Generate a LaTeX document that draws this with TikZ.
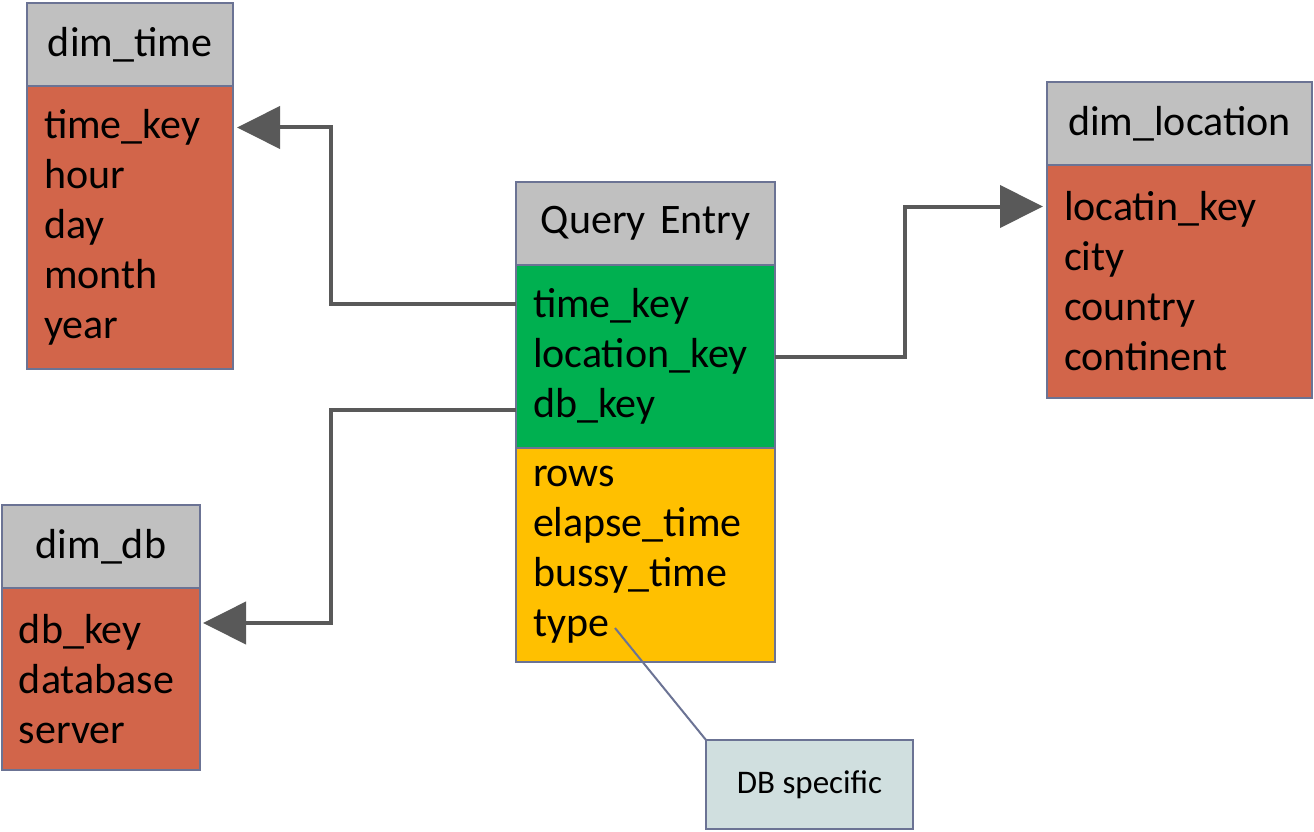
\documentclass[tikz,border=0pt]{standalone}
\usepackage{fontspec}
\setmainfont{Carlito}
\usetikzlibrary{arrows.meta,positioning}
\definecolor{hdrgrey}{HTML}{C0C0C0}
\definecolor{dimred}{HTML}{D2654A}
\definecolor{keygreen}{HTML}{00B050}
\definecolor{factyellow}{HTML}{FFC000}
\definecolor{notegrey}{HTML}{D0DFDF}
\definecolor{edgeblue}{HTML}{6B7394}
\definecolor{linkgrey}{HTML}{595959}

\begin{document}
\begin{tikzpicture}[x=1pt,y=-1pt,node distance=0pt,
                    tbl/.style={draw=edgeblue,line width=2pt,outer sep=0pt,
                      inner xsep=17pt,inner ysep=0pt,align=left,
                      font=\fontsize{42}{50}\selectfont},
                    hdr/.style={tbl,fill=hdrgrey,align=center,minimum height=83pt},
                    dim/.style={tbl,fill=dimred},
                    link/.style={draw=linkgrey,line width=4pt,
                      -{Triangle[length=43pt,width=42pt]}}]
      \useasboundingbox (0,0) rectangle (1314,832);
      % dimension tables
      \node[hdr,anchor=north west,text width=172pt] (timeh) at (27,3) {dim\_time};
      \node[dim,text width=172pt,minimum height=283pt] (timeb) [below=of timeh]
            {time\_key\\hour\\day\\month\\year};
      \node[hdr,anchor=north west,text width=164pt] (dbh) at (2,505) {dim\_db};
      \node[dim,text width=164pt,minimum height=182pt] (dbb) [below=of dbh]
            {db\_key\\database\\server};
      \node[hdr,anchor=north west,text width=231pt] (loch) at (1047,82) {dim\_location};
      \node[dim,text width=231pt,minimum height=233pt] (locb) [below=of loch]
            {locatin\_key\\city\\country\\continent};
      % fact table
      \node[hdr,anchor=north west,text width=225pt] (qh) at (516,182) {Query Entry};
      \node[tbl,fill=keygreen,text width=225pt,minimum height=183pt] (qkeys) [below=of qh]
            {time\_key\\location\_key\\db\_key};
      \node[tbl,fill=factyellow,text width=225pt,minimum height=214pt] (qvals) [below=of qkeys]
            {rows\\elapse\_time\\bussy\_time\\type\\[-2pt]};
      % note
      \node[draw=edgeblue,line width=2pt,fill=notegrey,outer sep=0pt,
            minimum width=207pt,minimum height=89pt,anchor=north west,
            font=\fontsize{33}{36}\selectfont] (note) at (706,740) {DB specific};
      \coordinate (typeend) at (615,628);
      % links
      \draw[link] ([yshift=53pt]qkeys.west) -- ++(-185,0) |- ([yshift=100pt,xshift=4pt]timeb.east);
      \draw[link] ([yshift=-53pt]qkeys.west) -- ++(-185,0) |- ([yshift=56pt,xshift=3pt]dbb.east);
      \draw[link] (qkeys.east) -- ++(130,0) |- ([yshift=75pt,xshift=-4pt]locb.west);
      \draw[edgeblue,line width=2pt] (typeend) -- (note.north west);
\end{tikzpicture}
\end{document}
